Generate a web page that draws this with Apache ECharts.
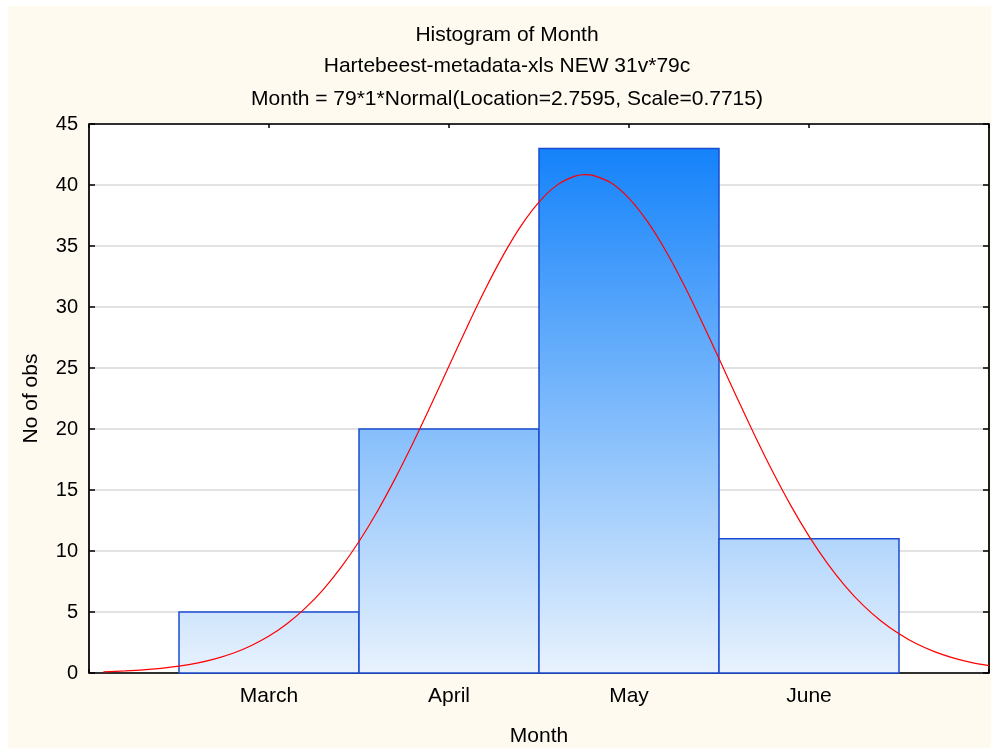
<!DOCTYPE html>
<html>
<head>
<meta charset="utf-8">
<script src="https://cdn.jsdelivr.net/npm/echarts@6/dist/echarts.min.js"></script>
<style>
html,body{margin:0;padding:0;background:#fff;}
#chart{width:991px;height:749px;}
</style>
</head>
<body>
<div id="chart"></div>
<script>
// ---- data ----
var titleLines = ['Histogram of Month', 'Hartebeest-metadata-xls NEW 31v*79c', 'Month = 79*1*Normal(Location=2.7595, Scale=0.7715)'];
var categories = ['March', 'April', 'May', 'June'];
var binCenters = [1, 2, 3, 4];
var counts = [5, 20, 43, 11];
var curveX = [0.08, 0.2, 0.3, 0.4, 0.5, 0.6, 0.7, 0.8, 0.9, 1.0,
              1.1, 1.2, 1.3, 1.4, 1.5, 1.6, 1.7, 1.8, 1.9, 2.0,
              2.1, 2.2, 2.3, 2.4, 2.5, 2.6, 2.7, 2.76, 2.8, 2.9, 3.0,
              3.1, 3.2, 3.3, 3.4, 3.5, 3.6, 3.7, 3.8, 3.9, 4.0,
              4.1, 4.2, 4.3, 4.4, 4.5, 4.6, 4.7, 4.8, 4.9, 5.0];
var curveY = [0.10, 0.17, 0.25, 0.38, 0.56, 0.81, 1.16, 1.62, 2.24, 3.03,
              4.04, 5.30, 6.82, 8.65, 10.78, 13.20, 15.91, 18.85, 21.96, 25.16,
              28.35, 31.41, 34.21, 36.65, 38.60, 39.99, 40.73, 40.85, 40.79, 40.18, 38.91,
              37.06, 34.71, 31.96, 28.94, 25.77, 22.57, 19.43, 16.45, 13.70, 11.22,
              9.03, 7.15, 5.56, 4.26, 3.21, 2.37, 1.73, 1.24, 0.87, 0.60];
var yTicks = [0, 5, 10, 15, 20, 25, 30, 35, 40, 45];

var chart = echarts.init(document.getElementById('chart'), null, {renderer: 'canvas'});
var FONT = '"Liberation Sans", Arial, sans-serif';
var GRID = {left: 89, right: 2, top: 124, bottom: 76};

var barData = binCenters.map(function (c, i) { return [c, counts[i]]; });
var curveData = curveX.map(function (x, i) { return [x, curveY[i]]; });

var fill = {
  type: 'linear', x: 0, y: GRID.top, x2: 0, y2: 749 - GRID.bottom, global: true,
  colorStops: [{offset: 0, color: '#0a7dfa'}, {offset: 1, color: '#e8f2fd'}]
};

function titleText(t, y) {
  return {type: 'text', x: 507, y: y, z: 10, silent: true,
    style: {text: t, textAlign: 'center', textVerticalAlign: 'middle', font: '21px ' + FONT, fill: '#000'}};
}

var axisLineStyle = {show: true, onZero: false, lineStyle: {color: '#000', width: 1.5}};

var option = {
  backgroundColor: '#ffffff',
  animation: false,
  graphic: [
    {type: 'rect', z: -10, silent: true, shape: {x: 8, y: 6, width: 983, height: 742}, style: {fill: '#fffaf0'}},
    titleText(titleLines[0], 35),
    titleText(titleLines[1], 66),
    titleText(titleLines[2], 99)
  ],
  grid: {left: GRID.left, right: GRID.right, top: GRID.top, bottom: GRID.bottom, containLabel: false, outerBoundsMode: 'none',
    show: true, backgroundColor: '#ffffff', borderColor: '#000', borderWidth: 1},
  xAxis: [{
    type: 'value', min: 0, max: 5, interval: 1,
    name: 'Month', nameLocation: 'middle', nameGap: 53,
    nameTextStyle: {fontFamily: FONT, fontSize: 21, color: '#000'},
    axisLine: axisLineStyle,
    axisTick: {show: true, inside: true, length: 4, lineStyle: {color: '#000', width: 1.5}},
    axisLabel: {
      margin: 13, fontFamily: FONT, fontSize: 21, color: '#000',
      formatter: function (v) { var i = binCenters.indexOf(v); return i >= 0 ? categories[i] : ''; }
    },
    splitLine: {show: false}
  }, {
    type: 'value', min: 0, max: 5, interval: 1, position: 'top',
    axisLine: axisLineStyle,
    axisTick: {show: true, inside: true, length: 4, lineStyle: {color: '#000', width: 1.5}},
    axisLabel: {show: false}, splitLine: {show: false}
  }],
  yAxis: [{
    type: 'value', min: 0, max: 45, interval: 5,
    name: 'No of obs', nameLocation: 'middle', nameGap: 47,
    nameTextStyle: {fontFamily: FONT, fontSize: 21, color: '#000'},
    axisLine: axisLineStyle,
    axisTick: {show: true, inside: true, length: 6, lineStyle: {color: '#000', width: 1.5}},
    axisLabel: {margin: 11, fontFamily: FONT, fontSize: 20, color: '#000',
      formatter: function (v) { return yTicks.indexOf(v) >= 0 ? String(v) : ''; }},
    splitLine: {show: true, lineStyle: {color: '#d8d8d8', width: 1.5}}
  }, {
    type: 'value', min: 0, max: 45, interval: 5, position: 'right',
    axisLine: axisLineStyle,
    axisTick: {show: true, inside: true, length: 6, lineStyle: {color: '#000', width: 1.5}},
    axisLabel: {show: false}, splitLine: {show: false}
  }],
  series: [{
    type: 'custom',
    xAxisIndex: 0, yAxisIndex: 0,
    data: barData,
    z: 3,
    renderItem: function (params, api) {
      var x = api.value(0), y = api.value(1);
      var p1 = api.coord([x - 0.5, y]);
      var p2 = api.coord([x + 0.5, 0]);
      return {
        type: 'rect',
        shape: {x: p1[0], y: p1[1], width: p2[0] - p1[0], height: p2[1] - p1[1]},
        style: {fill: fill, stroke: '#1a4cd0', lineWidth: 1.5}
      };
    }
  }, {
    type: 'line',
    xAxisIndex: 0, yAxisIndex: 0,
    data: curveData,
    smooth: 0.3,
    symbol: 'none',
    z: 5,
    lineStyle: {color: '#ff0000', width: 1.2}
  }]
};
chart.setOption(option);
</script>
</body>
</html>
